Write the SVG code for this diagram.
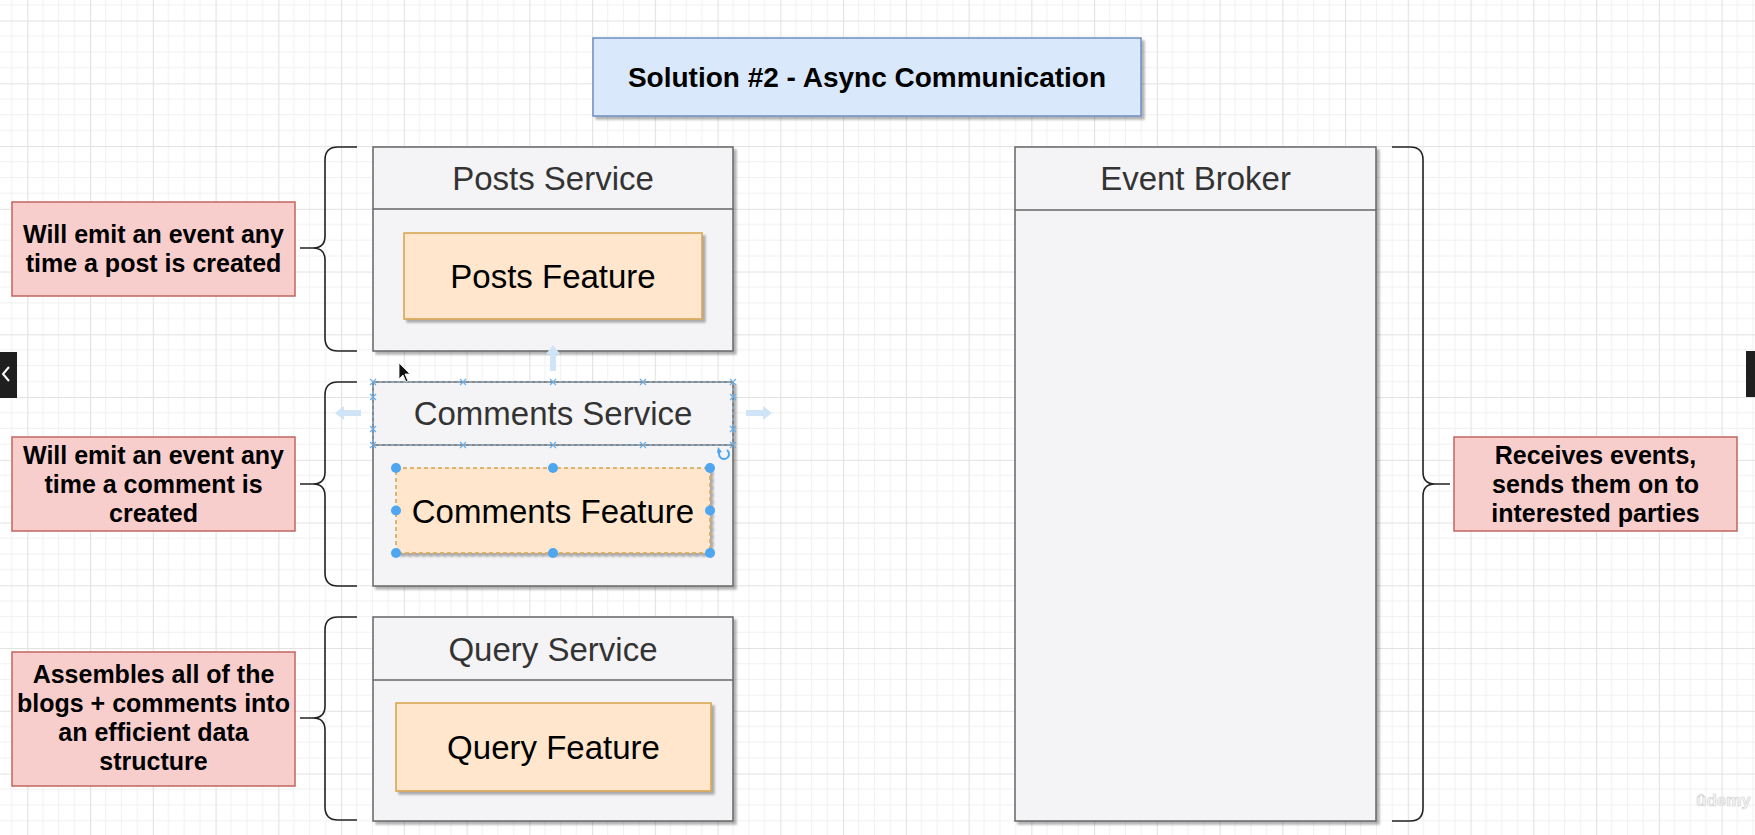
<svg xmlns="http://www.w3.org/2000/svg" width="1755" height="835" viewBox="0 0 1755 835">
  <defs>
    <pattern id="grid" patternUnits="userSpaceOnUse" x="27.3" y="20.55" width="62.75" height="62.75">
      <path d="M15.69 0V62.75M31.375 0V62.75M47.06 0V62.75M0 15.69H62.75M0 31.375H62.75M0 47.06H62.75" stroke="#f1f1f1" stroke-width="1" fill="none"/>
      <path d="M0.5 0V62.75M0 0.5H62.75" stroke="#e2e2e2" stroke-width="1.2" fill="none"/>
    </pattern>
    <filter id="shadow" x="-5%" y="-5%" width="115%" height="115%">
      <feGaussianBlur in="SourceAlpha" stdDeviation="1.2"/>
      <feOffset dx="3" dy="3" result="b"/>
      <feComponentTransfer><feFuncA type="linear" slope="0.3"/></feComponentTransfer>
      <feMerge><feMergeNode/><feMergeNode in="SourceGraphic"/></feMerge>
    </filter>
    <style>
      .svc { fill: #f4f4f6; stroke: #666666; stroke-width: 1.5; }
      .div { stroke: #666666; stroke-width: 1.5; }
      .feat { fill: #ffe6cc; stroke: #d6a24a; stroke-width: 1.5; }
      .note { fill: #f8cecc; stroke: #c2655f; stroke-width: 1.5; }
      .title { fill: #dae8fc; stroke: #6c8ebf; stroke-width: 1.5; }
      .brace { fill: none; stroke: #222222; stroke-width: 1.6; }
      .hdr { font-family: "Liberation Sans", Arial, sans-serif; font-size: 33px; fill: #333333; text-anchor: middle; }
      .ftx { font-family: "Liberation Sans", Arial, sans-serif; font-size: 33px; fill: #000000; text-anchor: middle; }
      .ntx { font-family: "Liberation Sans", Arial, sans-serif; font-size: 25px; font-weight: bold; fill: #000000; text-anchor: middle; }
      .ttx { font-family: "Liberation Sans", Arial, sans-serif; font-size: 28px; font-weight: bold; fill: #000000; text-anchor: middle; }
      .sel { fill: #4ea6f0; }
      .hint { fill: #cfe4f7; }
      .mark { stroke: #6aaee8; stroke-width: 1.2; }
    </style>
  </defs>

  <!-- canvas -->
  <rect width="1755" height="835" fill="#ffffff"/>
  <rect width="1755" height="835" fill="url(#grid)"/>

  <!-- title -->
  <g id="title">
    <rect class="title" x="593" y="38" width="548" height="78" filter="url(#shadow)"/>
    <text class="ttx" x="867" y="87">Solution #2 - Async Communication</text>
  </g>

  <!-- services -->
  <g id="posts-service">
    <rect class="svc" x="373" y="147" width="360" height="204" filter="url(#shadow)"/>
    <line class="div" x1="373" y1="209" x2="733" y2="209"/>
    <text class="hdr" x="553" y="190">Posts Service</text>
  </g>
  <g id="posts-feature">
    <rect class="feat" x="404" y="233" width="298" height="86" filter="url(#shadow)"/>
    <text class="ftx" x="553" y="288">Posts Feature</text>
  </g>

  <g id="comments-service">
    <rect class="svc" x="373" y="382" width="360" height="204" filter="url(#shadow)"/>
    <line class="div" x1="373" y1="445" x2="733" y2="445"/>
    <text class="hdr" x="553" y="425">Comments Service</text>
  </g>
  <g id="comments-feature">
    <rect class="feat" x="396" y="468" width="314" height="85" stroke-dasharray="4 3" filter="url(#shadow)"/>
    <text class="ftx" x="553" y="523">Comments Feature</text>
  </g>

  <g id="query-service">
    <rect class="svc" x="373" y="617" width="360" height="204" filter="url(#shadow)"/>
    <line class="div" x1="373" y1="680" x2="733" y2="680"/>
    <text class="hdr" x="553" y="661">Query Service</text>
  </g>
  <g id="query-feature">
    <rect class="feat" x="396" y="703" width="315" height="88" filter="url(#shadow)"/>
    <text class="ftx" x="553.5" y="759">Query Feature</text>
  </g>

  <g id="event-broker">
    <rect class="svc" x="1015" y="147" width="361" height="674" filter="url(#shadow)"/>
    <line class="div" x1="1015" y1="210" x2="1376" y2="210"/>
    <text class="hdr" x="1195.5" y="190">Event Broker</text>
  </g>

  <!-- notes -->
  <g id="note-posts">
    <rect class="note" x="12" y="202" width="283" height="94"/>
    <text class="ntx" x="153.5" y="243">Will emit an event any</text>
    <text class="ntx" x="153.5" y="272">time a post is created</text>
  </g>
  <g id="note-comments">
    <rect class="note" x="12" y="437" width="283" height="94"/>
    <text class="ntx" x="153.5" y="463.5">Will emit an event any</text>
    <text class="ntx" x="153.5" y="492.5">time a comment is</text>
    <text class="ntx" x="153.5" y="521.5">created</text>
  </g>
  <g id="note-query">
    <rect class="note" x="12" y="652" width="283" height="134"/>
    <text class="ntx" x="153.5" y="683">Assembles all of the</text>
    <text class="ntx" x="153.5" y="712">blogs + comments into</text>
    <text class="ntx" x="153.5" y="741">an efficient data</text>
    <text class="ntx" x="153.5" y="770">structure</text>
  </g>
  <g id="note-broker">
    <rect class="note" x="1454" y="437" width="283" height="94"/>
    <text class="ntx" x="1595.5" y="463.5">Receives events,</text>
    <text class="ntx" x="1595.5" y="492.5">sends them on to</text>
    <text class="ntx" x="1595.5" y="521.5">interested parties</text>
  </g>

  <!-- braces -->
  <g id="connectors">
    <path class="brace" d="M357 147H338Q325 147 325 160V236Q325 248 313 248H300M313 248Q325 248 325 260V338Q325 351 338 351H357"/>
    <path class="brace" d="M357 382H338Q325 382 325 395V472Q325 484 313 484H300M313 484Q325 484 325 496V573Q325 586 338 586H357"/>
    <path class="brace" d="M357 617H338Q325 617 325 630V706Q325 718 313 718H300M313 718Q325 718 325 730V807Q325 820 338 820H357"/>
    <path class="brace" d="M1392 147H1410Q1423 147 1423 160V472Q1423 484 1435 484H1450M1435 484Q1423 484 1423 496V808Q1423 821 1410 821H1392"/>
  </g>

  <!-- selection overlay on the comments service -->
  <g id="selection">
    <rect x="373" y="382" width="360" height="63" fill="none" stroke="#8cc1ee" stroke-width="1" stroke-dasharray="3 3"/>
    <g class="mark">
      <path d="M370 379l6 6M376 379l-6 6M460 379l6 6M466 379l-6 6M550 379l6 6M556 379l-6 6M640 379l6 6M646 379l-6 6M730 379l6 6M736 379l-6 6"/>
      <path d="M370 442l6 6M376 442l-6 6M460 442l6 6M466 442l-6 6M550 442l6 6M556 442l-6 6M640 442l6 6M646 442l-6 6M730 442l6 6M736 442l-6 6"/>
      <path d="M370 394l6 6M376 394l-6 6M370 426l6 6M376 426l-6 6M730 394l6 6M736 394l-6 6M730 426l6 6M736 426l-6 6"/>
    </g>
    <path class="hint" d="M335 413l9-7v4h17v6h-17v4z"/>
    <path class="hint" d="M772 413l-9-7v4h-17v6h17v4z"/>
    <path class="hint" d="M553 345l-7 9h4v17h6v-17h4z"/>
    <circle class="sel" cx="396" cy="468" r="5"/>
    <circle class="sel" cx="553" cy="468" r="5"/>
    <circle class="sel" cx="710" cy="468" r="5"/>
    <circle class="sel" cx="396" cy="510.5" r="5"/>
    <circle class="sel" cx="710" cy="510.5" r="5"/>
    <circle class="sel" cx="396" cy="553" r="5"/>
    <circle class="sel" cx="553" cy="553" r="5"/>
    <circle class="sel" cx="710" cy="553" r="5"/>
    <path d="M727 450A5 5 0 1 1 720 451" fill="none" stroke="#4ea6f0" stroke-width="2"/>
    <path d="M718 447l4 5l-5 1z" fill="#4ea6f0"/>
  </g>

  <!-- mouse pointer -->
  <path d="M399 363v16l4-4l3 7l2-1l-3-7h5z" fill="#111111" stroke="#ffffff" stroke-width="0.8"/>

  <!-- player chrome -->
  <g id="nav-left">
    <rect x="0" y="352" width="17" height="46" fill="#1f1f1f"/>
    <path d="M9 367l-6 7l6 7" fill="none" stroke="#ffffff" stroke-width="2"/>
  </g>
  <rect id="nav-right" x="1746" y="351" width="9" height="46" fill="#1f1f1f"/>
  <text x="1696" y="806" font-family="'Liberation Sans', Arial, sans-serif" font-size="17" font-weight="bold" fill="#f4f4f4" stroke="#d0d0d0" stroke-width="0.6">ûdemy</text>
</svg>
